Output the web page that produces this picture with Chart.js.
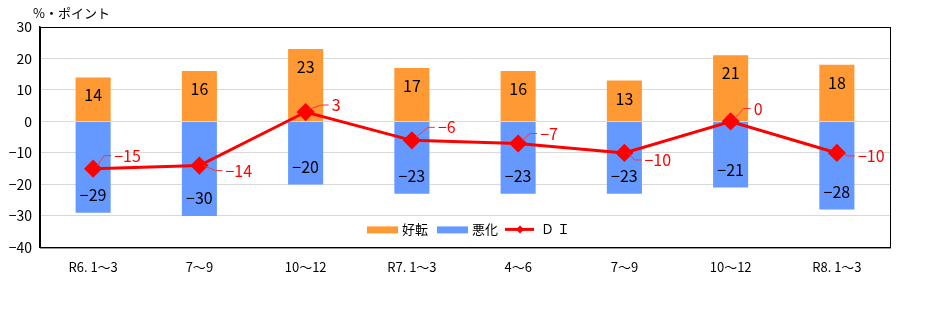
<!DOCTYPE html>
<html>
<head>
<meta charset="utf-8">
<script src="https://cdn.jsdelivr.net/npm/chart.js@4/dist/chart.umd.min.js"></script>
<style>
  html, body { margin: 0; padding: 0; background: #fff; }
  #wrap { position: relative; width: 932px; height: 324px; }
</style>
</head>
<body>
<div id="wrap"><canvas id="c" width="932" height="324"></canvas></div>
<script>
const labels = ['R6. 1～3', '7～9', '10～12', 'R7. 1～3', '4～6', '7～9', '10～12', 'R8. 1～3'];
const improved = [14, 16, 23, 17, 16, 13, 21, 18];
const worsened = [-29, -30, -20, -23, -23, -23, -21, -28];
const di = [-15, -14, 3, -6, -7, -10, 0, -10];

// where each DI label sits relative to its marker
const diLabelOffsets = [[21, -13], [26, 5], [26, -7], [26, -13], [22, -10], [20, 7], [23, -13], [21, 3]];

const FONT = '"Noto Sans CJK JP", "DejaVu Sans", sans-serif';
const minus = (v) => String(v).replace('-', '−');

const decor = {
  id: 'decor',
  afterDatasetsDraw(chart) {
    const { ctx, chartArea: a } = chart;
    ctx.save();
    // bar value labels
    ctx.font = '16px ' + FONT;
    ctx.fillStyle = '#000';
    ctx.textAlign = 'center';
    ctx.textBaseline = 'middle';
    [0, 1].forEach((k) => {
      chart.getDatasetMeta(k).data.forEach((bar, i) => {
        const v = chart.data.datasets[k].data[i];
        const y = v >= 0 ? bar.y + 18 : bar.y - 18;
        ctx.fillText(minus(v), bar.x, y);
      });
    });
    // DI labels with leader lines
    ctx.font = '16px ' + FONT;
    ctx.fillStyle = '#ff0000';
    ctx.strokeStyle = '#ff3333';
    ctx.lineWidth = 1;
    ctx.textAlign = 'left';
    chart.getDatasetMeta(2).data.forEach((pt, i) => {
      const [dx, dy] = diLabelOffsets[i];
      const lx = pt.x + dx, ly = pt.y + dy;
      ctx.beginPath();
      ctx.moveTo(pt.x + 4, pt.y + (dy < -4 ? -3 : 0));
      ctx.lineTo(Math.max(pt.x + 8, lx - 10), ly);
      ctx.lineTo(lx - 3, ly);
      ctx.stroke();
      ctx.fillText(minus(di[i]), lx, ly);
    });
    // plot area border
    ctx.strokeStyle = '#000';
    ctx.lineWidth = 1;
    ctx.strokeRect(a.left + 0.5, a.top + 0.5, a.right - a.left, a.bottom - a.top);
    // legend
    ctx.font = '13px ' + FONT;
    ctx.fillStyle = '#000';
    ctx.textBaseline = 'middle';
    const ly = a.bottom - 18;
    let x = 367;
    ctx.fillStyle = '#ff9933';
    ctx.fillRect(x, ly - 3, 31, 7);
    ctx.fillStyle = '#000';
    ctx.fillText('好転', x + 35, ly);
    x = 437;
    ctx.fillStyle = '#6699ff';
    ctx.fillRect(x, ly - 3, 31, 7);
    ctx.fillStyle = '#000';
    ctx.fillText('悪化', x + 35, ly);
    x = 505;
    ctx.strokeStyle = '#ff0000';
    ctx.lineWidth = 3;
    ctx.beginPath();
    ctx.moveTo(x, ly);
    ctx.lineTo(x + 29, ly);
    ctx.stroke();
    ctx.fillStyle = '#ff0000';
    ctx.beginPath();
    ctx.moveTo(x + 15, ly - 4);
    ctx.lineTo(x + 19, ly);
    ctx.lineTo(x + 15, ly + 4);
    ctx.lineTo(x + 11, ly);
    ctx.closePath();
    ctx.fill();
    ctx.fillStyle = '#000';
    ctx.fillText('Ｄ Ｉ', x + 36, ly);
    // unit label
    ctx.textAlign = 'left';
    ctx.font = '13px ' + FONT;
    ctx.fillText('%・ポイント', 33, 13);
    ctx.restore();
  }
};

new Chart(document.getElementById('c'), {
  data: {
    labels: labels,
    datasets: [
      {
        type: 'bar',
        label: '好転',
        data: improved,
        backgroundColor: '#ff9933',
        stack: 'bars',
        barPercentage: 0.33,
        categoryPercentage: 1,
        order: 2,
      },
      {
        type: 'bar',
        label: '悪化',
        data: worsened,
        backgroundColor: '#6699ff',
        stack: 'bars',
        barPercentage: 0.33,
        categoryPercentage: 1,
        order: 2,
      },
      {
        type: 'line',
        label: 'ＤＩ',
        data: di,
        stack: 'line',
        borderColor: '#ff0000',
        backgroundColor: '#ff0000',
        borderWidth: 3,
        pointStyle: 'rectRot',
        pointRadius: 7,
        pointHoverRadius: 7,
        tension: 0,
        order: 1,
      },
    ],
  },
  options: {
    responsive: false,
    animation: false,
    layout: { padding: { top: 27, right: 42, bottom: 45, left: 0 } },
    plugins: {
      legend: { display: false },
      tooltip: { enabled: false },
    },
    scales: {
      x: {
        stacked: true,
        offset: true,
        grid: { display: false },
        border: { color: '#000' },
        ticks: { color: '#000', font: { family: FONT, size: 13 }, padding: 4, maxRotation: 0 },
      },
      y: {
        stacked: true,
        min: -40,
        max: 30,
        afterFit(axis) { axis.width = 40; },
        ticks: {
          stepSize: 10,
          color: '#000',
          font: { family: FONT, size: 14 },
          padding: 8,
          callback: (v) => minus(v),
        },
        grid: { color: '#d9d9d9', drawTicks: false },
        border: { color: '#000', width: 1.5 },
      },
    },
  },
  plugins: [decor],
});
</script>
</body>
</html>
